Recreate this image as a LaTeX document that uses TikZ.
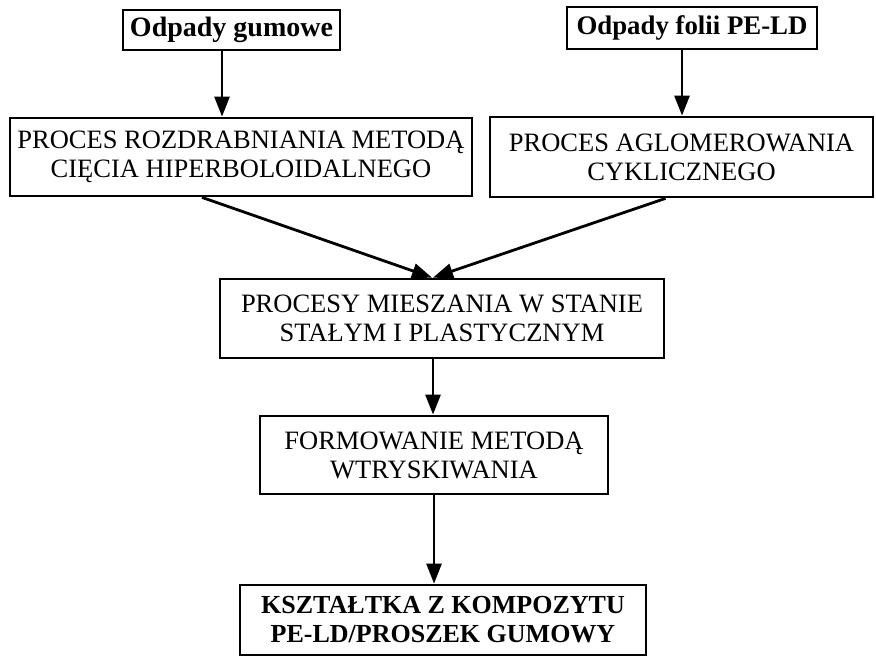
\documentclass[tikz,border=0pt]{standalone}
\usepackage{fontspec}
\setmainfont{Liberation Serif}
\usepackage{tikz}
\usetikzlibrary{arrows.meta, positioning}
\tikzset{
  blok/.style={draw, line width=2.8pt, align=center, inner sep=0pt,
    font=\fontsize{26.5}{29}\selectfont},
  blokb/.style={blok, font=\fontsize{26}{29}\selectfont\bfseries},
  strz/.style={-{Triangle[length=20pt,width=15pt]}, line width=2.8pt},
}

\begin{document}
\begin{tikzpicture}[x=1pt,y=-1pt]
    \useasboundingbox (0,0) rectangle (876,660);

    % Define the boxes
    \node[blokb, font=\fontsize{28}{29}\selectfont\bfseries, minimum width=217pt, minimum height=40pt] (gum) at (231.5,30) {Odpady gumowe};
    \node[blokb, font=\fontsize{26.8}{29}\selectfont\bfseries, minimum width=250pt, minimum height=42pt] (folia) at (692,28) {Odpady folii PE-LD};
    \node[blok, minimum width=462pt, minimum height=78pt] (rozdr) at (241,157)
      {PROCES ROZDRABNIANIA METODĄ\\CIĘCIA HIPERBOLOIDALNEGO};
    \node[blok, minimum width=383pt, minimum height=80pt] (aglom) at (681.5,157)
      {PROCES AGLOMEROWANIA\\CYKLICZNEGO};
    \node[blok, minimum width=444pt, minimum height=79pt] (miesz) at (442,318.5)
      {PROCESY MIESZANIA W STANIE\\STAŁYM I PLASTYCZNYM};
    \node[blok, minimum width=348pt, minimum height=78pt] (formow) at (434,455)
      {FORMOWANIE METODĄ\\WTRYSKIWANIA};
    \node[blokb, minimum width=406pt, minimum height=70pt] (ksztalt) at (443,620)
      {KSZTAŁTKA Z KOMPOZYTU\\PE-LD/PROSZEK GUMOWY};

    % Draw the arrows
    \draw[strz] ([xshift=-9.5pt]gum.south) -- ([xshift=-9.5pt]gum.south |- rozdr.north);
    \draw[strz] ([xshift=-10pt]folia.south) -- ([xshift=-10pt]folia.south |- aglom.north);
    \draw[strz] ([xshift=-39pt]rozdr.south) -- ([xshift=-10pt]miesz.north);
    \draw[strz] ([xshift=-16pt]aglom.south) -- ([xshift=-9pt]miesz.north);
    \draw[strz] ([xshift=-9pt]miesz.south) -- ([xshift=-9pt]miesz.south |- formow.north);
    \draw[strz] (formow.south) -- (formow.south |- ksztalt.north);
  \end{tikzpicture}
\end{document}
